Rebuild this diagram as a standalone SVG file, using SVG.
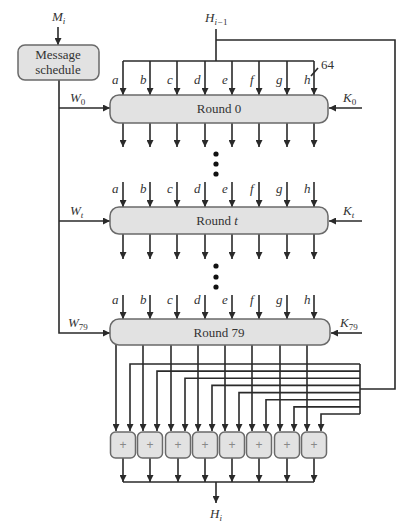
<svg xmlns="http://www.w3.org/2000/svg" width="415" height="528" viewBox="0 0 415 528">
<style>
.box{fill:#e2e2e2;stroke:#6a6a6a;stroke-width:1.5}
.ln{fill:none;stroke:#2a2a2a;stroke-width:1.6}
.arr{fill:none;stroke:#2a2a2a;stroke-width:1.6;marker-end:url(#ah)}
.t{font-family:"Liberation Serif",serif;font-size:13px;fill:#333;text-anchor:middle}
.i{font-family:"Liberation Serif",serif;font-style:italic;font-size:13px;fill:#333}
.s{font-size:9px}
.n{font-size:9px;font-style:normal}
.p{font-family:"Liberation Sans",sans-serif;font-size:12px;fill:#888;text-anchor:middle}
</style>
<defs>
<marker id="ah" viewBox="0 0 10 10" refX="10" refY="5" markerWidth="8" markerHeight="7" markerUnits="userSpaceOnUse" orient="auto"><path d="M0,0 L10,5 L0,10 z" fill="#2a2a2a"/></marker>
</defs>
<rect width="415" height="528" fill="#fff"/>
<g id="connectors">
<path class="arr" d="M58,27 V45"/>
<path class="arr" d="M59,80 V333 H110"/>
<path class="arr" d="M59,108 H110"/>
<path class="arr" d="M59,221 H110"/>
<path class="ln" d="M216,29 V61"/>
<path class="ln" d="M123,61 H314"/>
<path class="ln" d="M216,40 H395 V389 H360"/>
<path class="ln" d="M311,76 L318,68"/>
<path class="arr" d="M123,61 V95"/><path class="arr" d="M150,61 V95"/><path class="arr" d="M177,61 V95"/><path class="arr" d="M205,61 V95"/><path class="arr" d="M232,61 V95"/><path class="arr" d="M259,61 V95"/><path class="arr" d="M287,61 V95"/><path class="arr" d="M314,61 V95"/>
<path class="arr" d="M123,123 V147"/><path class="arr" d="M150,123 V147"/><path class="arr" d="M177,123 V147"/><path class="arr" d="M205,123 V147"/><path class="arr" d="M232,123 V147"/><path class="arr" d="M259,123 V147"/><path class="arr" d="M287,123 V147"/><path class="arr" d="M314,123 V147"/>
<path class="arr" d="M123,182 V207"/><path class="arr" d="M150,182 V207"/><path class="arr" d="M177,182 V207"/><path class="arr" d="M205,182 V207"/><path class="arr" d="M232,182 V207"/><path class="arr" d="M259,182 V207"/><path class="arr" d="M287,182 V207"/><path class="arr" d="M314,182 V207"/>
<path class="arr" d="M123,234 V259"/><path class="arr" d="M150,234 V259"/><path class="arr" d="M177,234 V259"/><path class="arr" d="M205,234 V259"/><path class="arr" d="M232,234 V259"/><path class="arr" d="M259,234 V259"/><path class="arr" d="M287,234 V259"/><path class="arr" d="M314,234 V259"/>
<path class="arr" d="M123,295 V319"/><path class="arr" d="M150,295 V319"/><path class="arr" d="M177,295 V319"/><path class="arr" d="M205,295 V319"/><path class="arr" d="M232,295 V319"/><path class="arr" d="M259,295 V319"/><path class="arr" d="M287,295 V319"/><path class="arr" d="M314,295 V319"/>
<path class="arr" d="M362,108 H329"/>
<path class="arr" d="M362,221 H329"/>
<path class="arr" d="M362,333 H331"/>
<path class="arr" d="M116,345 V431"/><path class="arr" d="M143,345 V431"/><path class="arr" d="M171,345 V431"/><path class="arr" d="M198,345 V431"/><path class="arr" d="M225,345 V431"/><path class="arr" d="M252,345 V431"/><path class="arr" d="M280,345 V431"/><path class="arr" d="M307,345 V431"/>
<path class="ln" d="M360,364 V414"/>
<path class="arr" d="M360,364 H130 V431"/>
<path class="arr" d="M360,371.1 H157 V431"/>
<path class="arr" d="M360,378.3 H185 V431"/>
<path class="arr" d="M360,385.4 H212 V431"/>
<path class="arr" d="M360,392.6 H239 V431"/>
<path class="arr" d="M360,399.7 H266 V431"/>
<path class="arr" d="M360,406.9 H294 V431"/>
<path class="arr" d="M360,414 H321 V431"/>
<path class="arr" d="M123,458 V482"/><path class="arr" d="M150,458 V482"/><path class="arr" d="M178,458 V482"/><path class="arr" d="M205,458 V482"/><path class="arr" d="M232,458 V482"/><path class="arr" d="M259,458 V482"/><path class="arr" d="M287,458 V482"/><path class="arr" d="M314,458 V482"/>
<path class="ln" d="M123,482 H314"/>
<path class="arr" d="M216,482 V503"/>
</g>
<g id="labels">
<text class="i" x="52" y="21">M<tspan class="s" dy="3">i</tspan></text>
<text class="i" x="205" y="22">H<tspan class="s" dy="3">i−</tspan><tspan class="n">1</tspan></text>
<text class="t" x="321" y="69" style="text-anchor:start">64</text>
<text class="i" x="70" y="102">W<tspan class="n" dy="3">0</tspan></text>
<text class="i" x="70" y="215">W<tspan class="s" dy="3">t</tspan></text>
<text class="i" x="68" y="327">W<tspan class="n" dy="3">79</tspan></text>
<text class="i" x="343" y="102">K<tspan class="n" dy="3">0</tspan></text>
<text class="i" x="343" y="215">K<tspan class="s" dy="3">t</tspan></text>
<text class="i" x="340" y="327">K<tspan class="n" dy="3">79</tspan></text>
<text class="i" x="210" y="518">H<tspan class="s" dy="3">i</tspan></text>
<g id="letters0" class="i"><text x="112" y="84">a</text><text x="140" y="84">b</text><text x="167" y="84">c</text><text x="194" y="84">d</text><text x="222" y="84">e</text><text x="250" y="84">f</text><text x="276" y="84">g</text><text x="304" y="84">h</text></g>
<g id="letterst" class="i"><text x="112" y="193">a</text><text x="140" y="193">b</text><text x="167" y="193">c</text><text x="194" y="193">d</text><text x="222" y="193">e</text><text x="250" y="193">f</text><text x="276" y="193">g</text><text x="304" y="193">h</text></g>
<g id="letters79" class="i"><text x="112" y="304">a</text><text x="140" y="304">b</text><text x="167" y="304">c</text><text x="194" y="304">d</text><text x="222" y="304">e</text><text x="250" y="304">f</text><text x="276" y="304">g</text><text x="304" y="304">h</text></g>
</g>
<g id="dots" fill="#111">
<circle cx="216" cy="154" r="2.6"/><circle cx="216" cy="164" r="2.6"/><circle cx="216" cy="174" r="2.6"/>
<circle cx="216" cy="266" r="2.6"/><circle cx="216" cy="277" r="2.6"/><circle cx="216" cy="287" r="2.6"/>
</g>
<g id="message-schedule"><rect class="box" x="18" y="45" width="81" height="35" rx="7"/><text class="t" x="58" y="59">Message</text><text class="t" x="58" y="74">schedule</text></g>
<g id="round-0"><rect class="box" x="110" y="95" width="218" height="28" rx="9"/><text class="t" x="219" y="113">Round 0</text></g>
<g id="round-t"><rect class="box" x="110" y="207" width="218" height="27" rx="9"/><text class="t" x="217" y="225">Round <tspan font-style="italic">t</tspan></text></g>
<g id="round-79"><rect class="box" x="110" y="319" width="220" height="26" rx="9"/><text class="t" x="219" y="337">Round 79</text></g>
<g id="adder-1"><rect class="box" x="110.5" y="432" width="25" height="26" rx="5"/><text class="p" x="123" y="449">+</text></g>
<g id="adder-2"><rect class="box" x="137.5" y="432" width="25" height="26" rx="5"/><text class="p" x="150" y="449">+</text></g>
<g id="adder-3"><rect class="box" x="165.5" y="432" width="25" height="26" rx="5"/><text class="p" x="178" y="449">+</text></g>
<g id="adder-4"><rect class="box" x="192.5" y="432" width="25" height="26" rx="5"/><text class="p" x="205" y="449">+</text></g>
<g id="adder-5"><rect class="box" x="219.5" y="432" width="25" height="26" rx="5"/><text class="p" x="232" y="449">+</text></g>
<g id="adder-6"><rect class="box" x="246.5" y="432" width="25" height="26" rx="5"/><text class="p" x="259" y="449">+</text></g>
<g id="adder-7"><rect class="box" x="274.5" y="432" width="25" height="26" rx="5"/><text class="p" x="287" y="449">+</text></g>
<g id="adder-8"><rect class="box" x="301.5" y="432" width="25" height="26" rx="5"/><text class="p" x="314" y="449">+</text></g>
</svg>
